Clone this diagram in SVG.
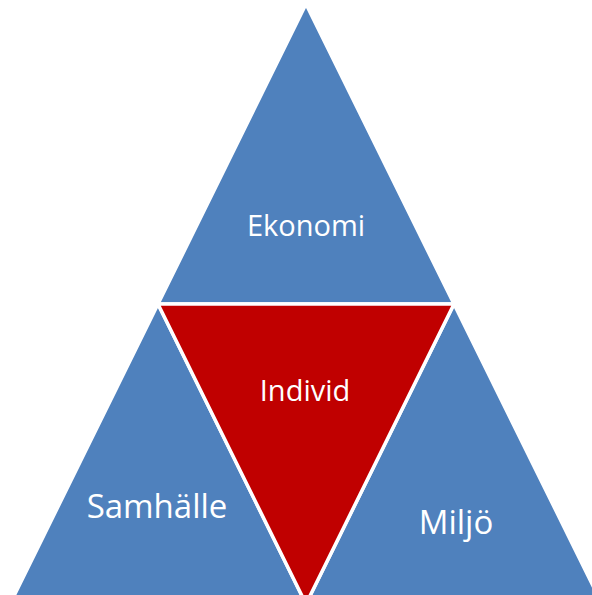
<svg xmlns="http://www.w3.org/2000/svg" width="592" height="595" viewBox="0 0 592 595">
<style>
.tri{stroke:#FFFFFF;stroke-width:3.5;stroke-linejoin:miter}
.blue{fill:#4F81BD}
.red{fill:#C00000}
.lbl{font-family:"Open Sans","Noto Sans","Liberation Sans",sans-serif;fill:#FFFFFF;text-anchor:middle}
</style>
<rect width="592" height="595" fill="#FFFFFF"/>
<g id="ekonomi">
<polygon class="tri blue" points="306,4 158,304 454,304"/>
<text class="lbl" x="306" y="236" font-size="29">Ekonomi</text>
</g>
<g id="samhalle">
<polygon class="tri blue" points="158,304 10,604 306,604"/>
<text class="lbl" x="157" y="518" font-size="33">Samhälle</text>
</g>
<g id="miljo">
<polygon class="tri blue" points="454,304 306,604 602,604"/>
<text class="lbl" x="456" y="534" font-size="33">Miljö</text>
</g>
<g id="individ">
<polygon class="tri red" points="158,304 454,304 306,604"/>
<text class="lbl" x="305" y="401" font-size="29">Individ</text>
</g>
<g id="connectors"></g>
</svg>
